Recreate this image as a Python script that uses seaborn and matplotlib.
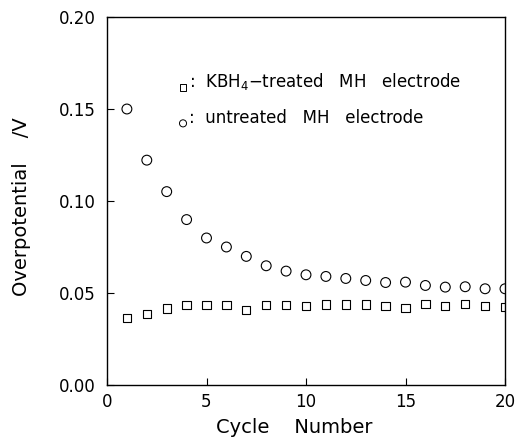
import matplotlib
matplotlib.use("Agg")
import matplotlib.pyplot as plt
import seaborn as sns
import pandas as pd

cycles = list(range(1, 21))
untreated = [0.150, 0.1222, 0.1051, 0.0899, 0.0799, 0.0750, 0.0699, 0.0648, 0.0619, 0.0599,
             0.0590, 0.0579, 0.0568, 0.0557, 0.0559, 0.0541, 0.0532, 0.0534, 0.0523, 0.0523]
treated = [0.0365, 0.0387, 0.0416, 0.0436, 0.0436, 0.0436, 0.0407, 0.0436, 0.0436, 0.0429,
           0.0438, 0.0438, 0.0438, 0.0429, 0.0419, 0.0439, 0.0430, 0.0439, 0.0430, 0.0425]
xticks = [0, 5, 10, 15, 20]
yticks = [0.00, 0.05, 0.10, 0.15, 0.20]
ytick_labels = ["0.00", "0.05", "0.10", "0.15", "0.20"]
legend_labels = [":  KBH$_4$\u2212treated   MH   electrode", ":  untreated   MH   electrode"]

sns.set_style("white")
plt.rcParams['font.family'] = ['DejaVu Sans']
plt.rcParams['text.color'] = 'black'
plt.rcParams['axes.labelcolor'] = 'black'
plt.rcParams['xtick.color'] = 'black'
plt.rcParams['ytick.color'] = 'black'

fig = plt.figure(figsize=(5.19, 4.46), dpi=100)
ax = fig.add_axes([107/519, 61/446, 398/519, 368/446])

df = pd.DataFrame({"cycle": cycles, "untreated": untreated, "treated": treated})
sns.scatterplot(data=df, x="cycle", y="untreated", marker="o", s=50, facecolor="none",
                edgecolor="black", linewidth=0.8, ax=ax, zorder=3)
sns.scatterplot(data=df, x="cycle", y="treated", marker="s", s=36, facecolor="none",
                edgecolor="black", linewidth=0.8, ax=ax, zorder=3)

ax.set_xlim(0, 20)
ax.set_ylim(0, 0.20)
ax.set_xticks(xticks)
ax.set_xticklabels([str(t) for t in xticks])
ax.set_yticks(yticks)
ax.set_yticklabels(ytick_labels)
ax.tick_params(axis="both", direction="in", length=5, width=0.8, labelsize=12,
               color="black", labelcolor="black", bottom=True, left=True, top=False, right=False)
ax.tick_params(axis="x", pad=6)
ax.tick_params(axis="y", pad=8)
for sp in ax.spines.values():
    sp.set_visible(True)
    sp.set_color("black")
    sp.set_linewidth(1.0)

ax.set_xlabel("Cycle    Number", fontsize=14, color="black")
ax.set_ylabel("Overpotential    /V", fontsize=14, color="black")
ax.xaxis.set_label_coords(0.47, -0.09)
ax.yaxis.set_label_coords(-0.19, 0.484)

# legend-like annotation
ax.scatter([0.191], [0.808], marker="s", s=22, facecolor="none", edgecolor="black",
           linewidth=0.7, transform=ax.transAxes, clip_on=False)
ax.scatter([0.191], [0.711], marker="o", s=26, facecolor="none", edgecolor="black",
           linewidth=0.7, transform=ax.transAxes, clip_on=False)
ax.text(0.205, 0.810, legend_labels[0], transform=ax.transAxes, fontsize=12,
        va="baseline", ha="left", color="black")
ax.text(0.205, 0.712, legend_labels[1], transform=ax.transAxes, fontsize=12,
        va="baseline", ha="left", color="black")

fig.savefig("out.png", dpi=100)
